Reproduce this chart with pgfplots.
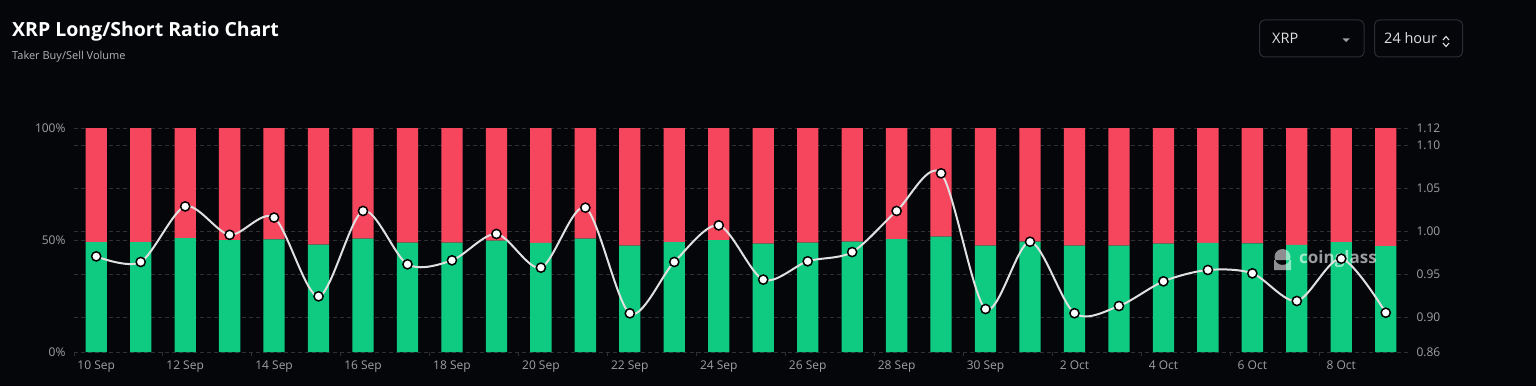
\documentclass[border=0pt]{standalone}
\usepackage{pgfplots}
\pgfplotsset{compat=1.18}
\usepackage{pgfplotstable}
\usepackage{fontspec}
\setmainfont{Open Sans}
\definecolor{bg}{HTML}{05060A}
\definecolor{lgreen}{HTML}{0ECB81}
\definecolor{sred}{HTML}{F6465D}
\definecolor{gridc}{HTML}{2E3035}
\definecolor{tickc}{HTML}{A0A0A0}
\definecolor{btnb}{HTML}{2C2D33}
\definecolor{linec}{HTML}{E0E0E0}
\definecolor{subc}{HTML}{B4B4B4}

\pgfplotstableread{
k long short ratio
0 49.0 51.0 0.971
1 49.0 51.0 0.9645
2 50.8 49.2 1.029
3 49.9 50.1 0.996
4 50.3 49.7 1.016
5 47.9 52.1 0.9246
6 50.6 49.4 1.0237
7 48.8 51.2 0.9618
8 48.8 51.2 0.9664
9 49.7 50.3 0.997
10 48.7 51.3 0.9579
11 50.6 49.4 1.0275
12 47.5 52.5 0.9049
13 49.0 51.0 0.9645
14 50.0 50.0 1.007
15 48.4 51.6 0.944
16 48.8 51.2 0.9653
17 49.3 50.7 0.976
18 50.4 49.6 1.0237
19 51.5 48.5 1.0674
20 47.5 52.5 0.9099
21 49.3 50.7 0.988
22 47.5 52.5 0.905
23 47.5 52.5 0.9134
24 48.4 51.6 0.942
25 48.7 51.3 0.9552
26 48.5 51.5 0.9513
27 47.8 52.2 0.9192
28 49.0 51.0 0.9683
29 47.3 52.7 0.9056
}\datatable

\pgfplotsset{
  common/.style={
    at={(74pt,34pt)}, anchor=south west, scale only axis,
    width=1334pt, height=224pt,
    xmin=-0.5, xmax=29.5,
    /pgf/number format/assume math mode=true,
  },
  gstyle/.style={grid style={gridc, dash pattern=on 4pt off 3pt, line width=1pt}},
}

\begin{document}
\begin{tikzpicture}
\fill[bg] (0pt,0pt) rectangle (1536pt,386pt);
\useasboundingbox (0pt,0pt) rectangle (1536pt,386pt);

\node[anchor=base west, inner sep=0, text=white, font=\fontsize{19.5}{22}\selectfont\bfseries] at (12pt,349pt) {XRP Long/Short Ratio Chart};
\node[anchor=base west, inner sep=0, text=subc, font=\fontsize{11}{13}\selectfont] at (12pt,326pt) {Taker Buy/Sell Volume};

% selector buttons
\draw[btnb, line width=1pt, rounded corners=5pt] (1259.5pt,329pt) rectangle (1364pt,366pt);
\node[anchor=west, inner sep=0, text=linec, font=\fontsize{14.5}{16}\selectfont] at (1272pt,347.5pt) {XRP};
\fill[tickc] (1342.5pt,347.5pt) -- (1349.5pt,347.5pt) -- (1346pt,344pt) -- cycle;
\draw[btnb, line width=1pt, rounded corners=5pt] (1374.5pt,329pt) rectangle (1462.5pt,366pt);
\node[anchor=west, inner sep=0, text=linec, font=\fontsize{14.5}{16}\selectfont] at (1384pt,347.5pt) {24 hour};
\draw[linec, line width=1.1pt] (1443pt,346pt) -- (1446pt,349.5pt) -- (1449pt,346pt);
\draw[linec, line width=1.1pt] (1443pt,343pt) -- (1446pt,339.5pt) -- (1449pt,343pt);

% right-axis grid and labels
\begin{axis}[common, gstyle,
  ymin=0.86, ymax=1.12,
  hide x axis,
  axis y line*=right,
  y axis line style={draw=none},
  ytick={0.86,0.9,0.95,1,1.05,1.1,1.12},
  yticklabels={0.86,0.90,0.95,1.00,1.05,1.10,1.12},
  major tick length=0pt,
  ymajorgrids,
  yticklabel style={text=tickc, font=\fontsize{12}{14}\selectfont, xshift=5pt},
]
\addplot[draw=none] coordinates {(0,0.9)};
\end{axis}

% stacked bars
\begin{axis}[common, gstyle,
  ymin=0, ymax=100,
  ybar stacked, bar width=21.3pt,
  axis line style={draw=none},
  ytick={0,50,100}, yticklabels={0\%,50\%,100\%}, ytick pos=left,
  ymajorgrids,
  xtick={0,2,...,28},
  xticklabels={10 Sep,12 Sep,14 Sep,16 Sep,18 Sep,20 Sep,22 Sep,24 Sep,26 Sep,28 Sep,30 Sep,2 Oct,4 Oct,6 Oct,8 Oct},
  xtick pos=bottom,
  major tick length=0pt,
  extra x ticks={-0.5,1.5,...,27.5},
  extra x tick labels={},
  extra x tick style={major tick length=4pt, tick align=outside, tick style={gridc, line width=1pt}, xmajorgrids=false},
  yticklabel style={text=tickc, font=\fontsize{12}{14}\selectfont, xshift=-5pt},
  xticklabel style={text=tickc, font=\fontsize{12}{14}\selectfont, yshift=-5pt},
]
\addplot[fill=lgreen, draw=none] table[x=k, y=long] {\datatable};
\addplot[fill=sred, draw=none] table[x=k, y=short] {\datatable};
\end{axis}

% watermark
\fill[white, opacity=0.55] (1274pt,116pt) rectangle (1291pt,126pt) (1282.5pt,129pt) circle[radius=8pt];
\node[anchor=west, inner sep=0, text=white, opacity=0.6, font=\fontsize{17}{19}\selectfont\bfseries] at (1299pt,127pt) {coinglass};

% ratio line
\begin{axis}[common, ymin=0.86, ymax=1.12, hide axis, clip=false]
\addplot[smooth, color=linec, line width=2pt, mark=*, mark size=4.6pt,
  mark options={solid, fill=white, draw=black, line width=1.5pt}] table[x=k, y=ratio] {\datatable};
\end{axis}
\end{tikzpicture}
\end{document}
